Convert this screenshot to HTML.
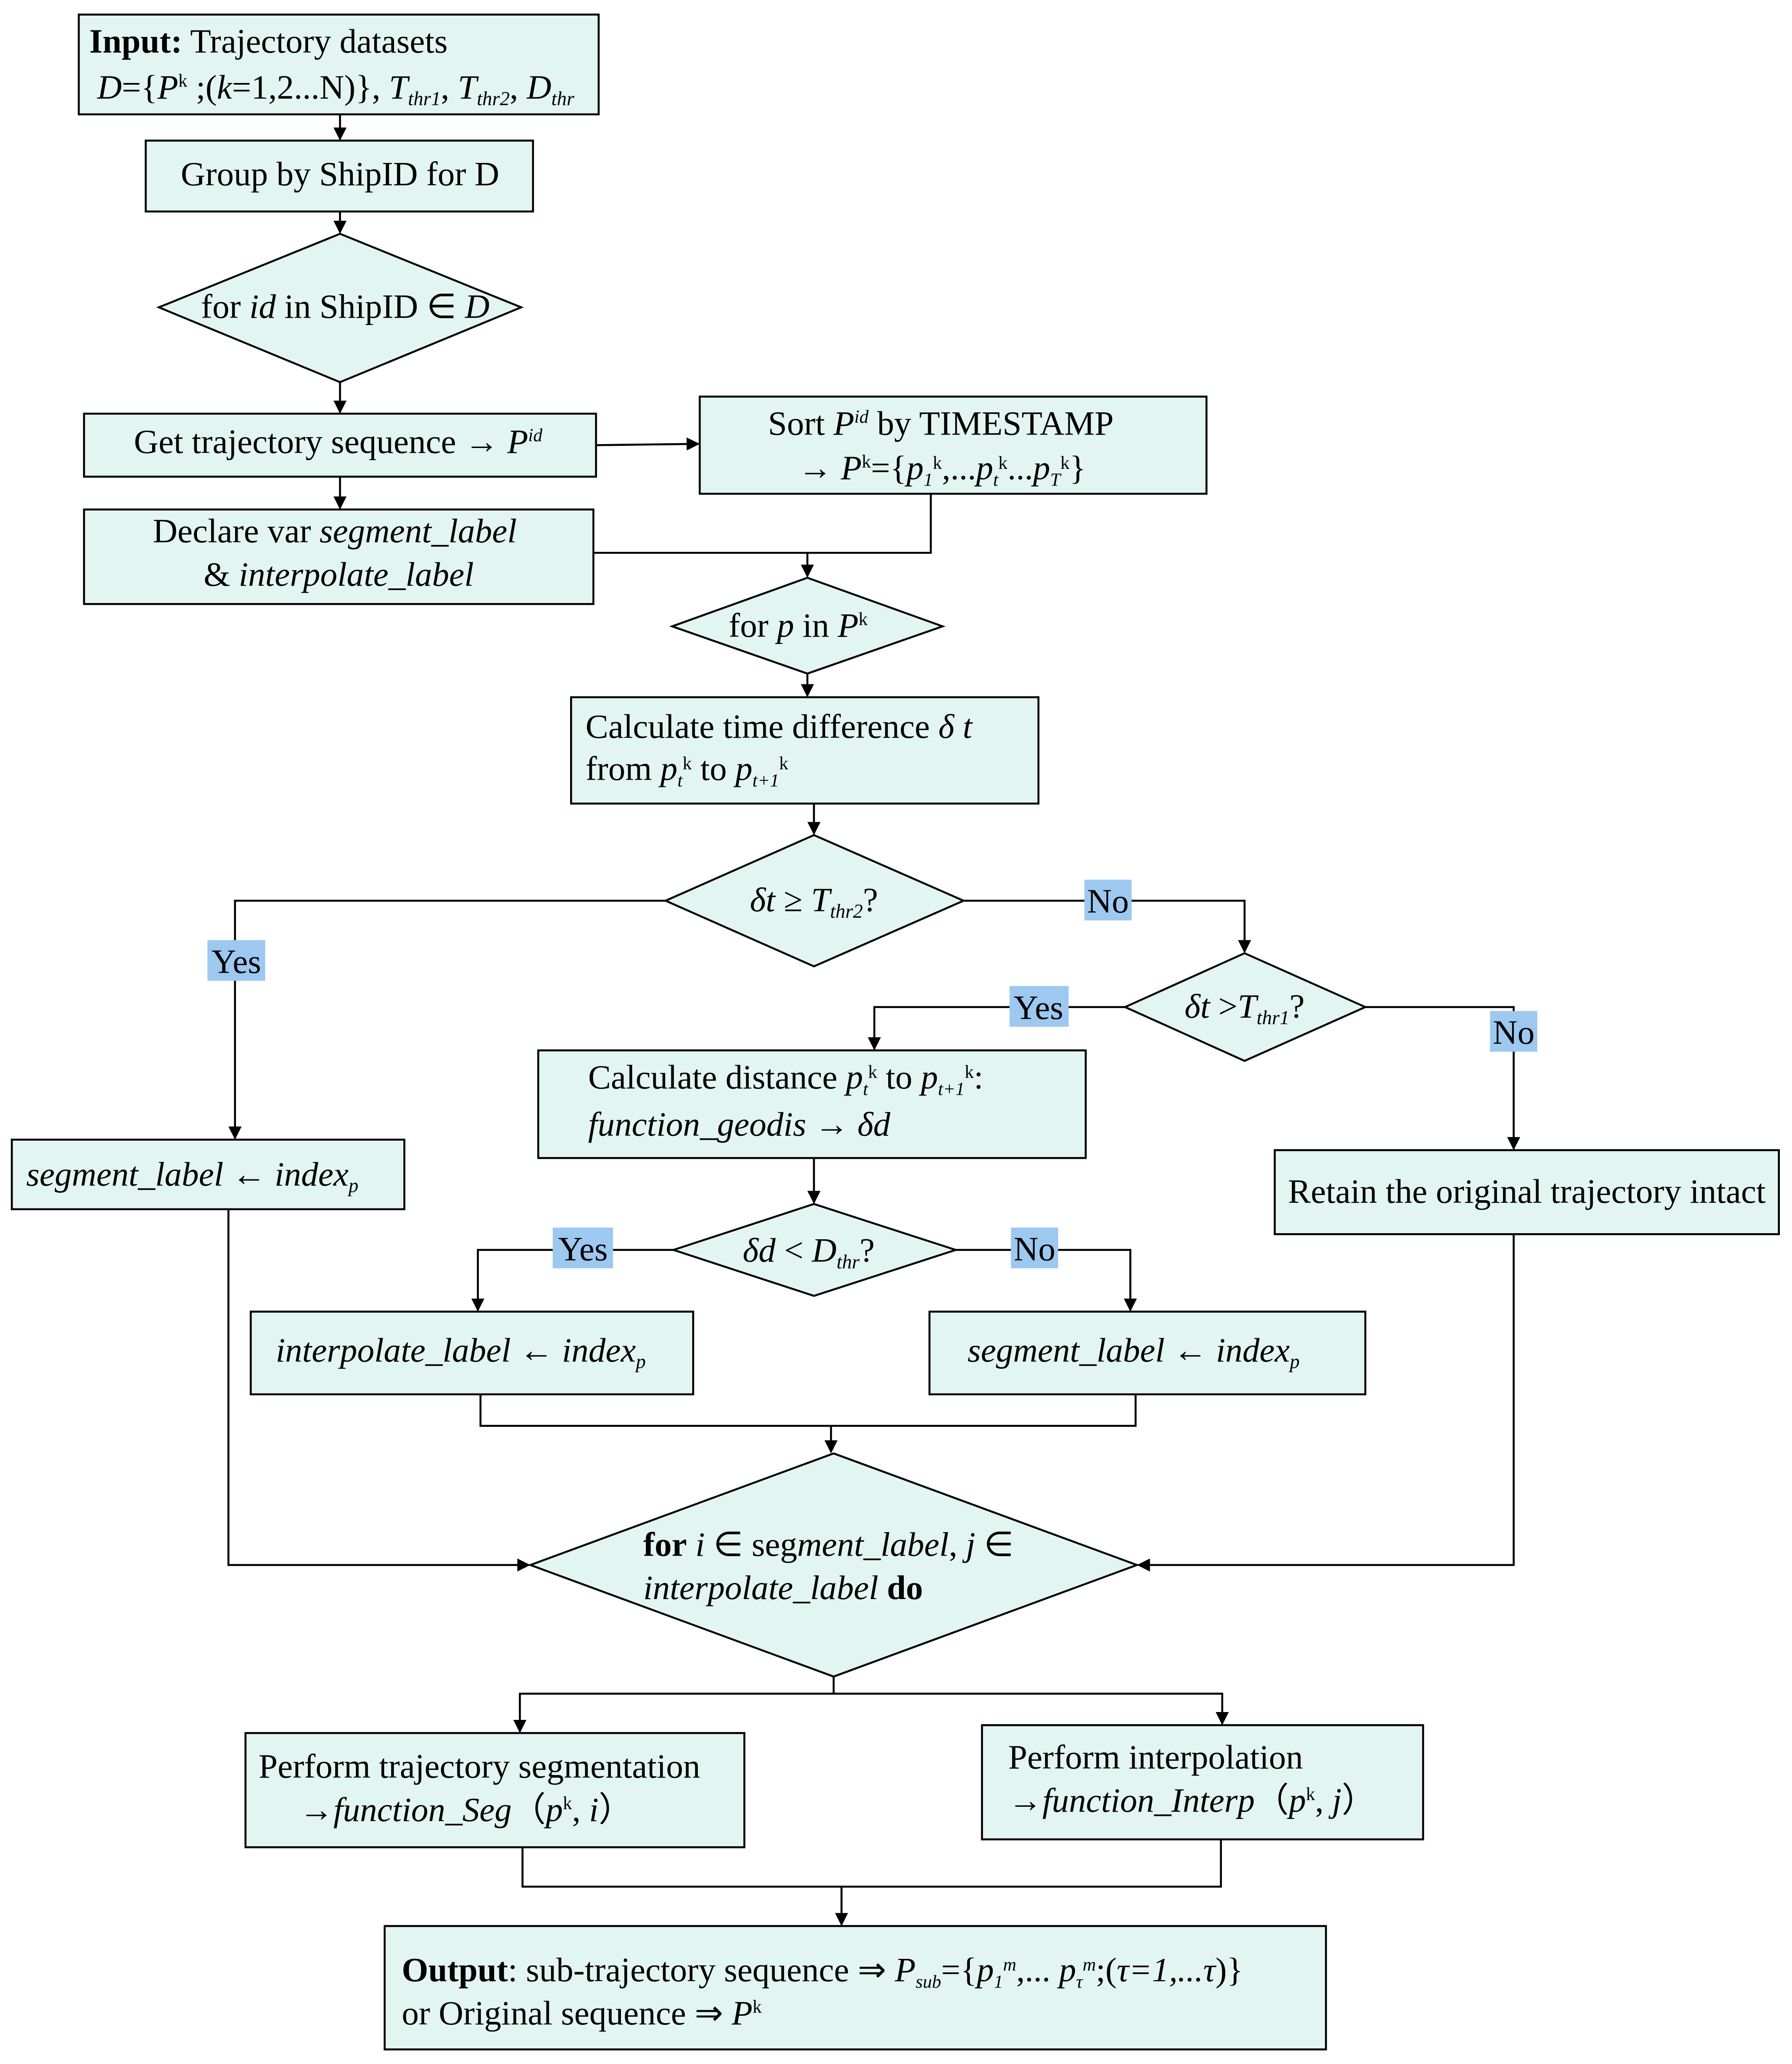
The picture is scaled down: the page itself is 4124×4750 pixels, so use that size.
<!DOCTYPE html>
<html><head><meta charset="utf-8"><style>
html,body{margin:0;padding:0;background:#fff}
svg{display:block}
text{font-family:"Liberation Serif",serif;font-size:26px;fill:#000}
.i{font-style:italic}
.b{font-weight:bold}
</style></head><body>
<svg width="4124" height="4750" viewBox="0 0 1365 1572" xmlns="http://www.w3.org/2000/svg">
<defs><marker id="a" markerWidth="10" markerHeight="10" refX="9" refY="5" orient="auto" markerUnits="userSpaceOnUse"><path d="M0,0 L10,5 L0,10 z" fill="#000"/></marker></defs>
<g fill="#e3f5f1" stroke="#000" stroke-width="1.5">
<rect x="60" y="11" width="396" height="76"/>
<rect x="111" y="107" width="295" height="54"/>
<polygon points="121,234 259,178 397,234 259,291"/>
<rect x="64" y="315" width="390" height="48"/>
<rect x="533" y="302" width="386" height="74"/>
<rect x="64" y="388" width="388" height="72"/>
<polygon points="512,477 615,440 718,477 615,513"/>
<rect x="435" y="531" width="356" height="81"/>
<polygon points="507,686 620,636 734,686 620,736"/>
<polygon points="857,767 948,726 1040,767 948,808"/>
<rect x="410" y="800" width="417" height="82"/>
<rect x="9" y="868" width="299" height="53"/>
<rect x="971" y="876" width="384" height="64"/>
<polygon points="513,952 620,917 728,952 620,987"/>
<rect x="191" y="999" width="337" height="63"/>
<rect x="708" y="999" width="332" height="63"/>
<polygon points="404,1192 635,1107 866,1192 635,1277"/>
<rect x="187" y="1320" width="380" height="87"/>
<rect x="748" y="1314" width="336" height="87"/>
<rect x="293" y="1467" width="717" height="94"/>
</g>
<g fill="none" stroke="#000" stroke-width="1.5">
<path d="M259,87V106" marker-end="url(#a)"/>
<path d="M259,161V177" marker-end="url(#a)"/>
<path d="M259,291V314" marker-end="url(#a)"/>
<path d="M259,363V387" marker-end="url(#a)"/>
<path d="M454,339L532,338" marker-end="url(#a)"/>
<path d="M709,376V421H452"/>
<path d="M615,421V439" marker-end="url(#a)"/>
<path d="M615,513V530" marker-end="url(#a)"/>
<path d="M620,612V635" marker-end="url(#a)"/>
<path d="M507,686H179V867" marker-end="url(#a)"/>
<path d="M734,686H948V725" marker-end="url(#a)"/>
<path d="M857,767H666V799" marker-end="url(#a)"/>
<path d="M1040,767H1153V875" marker-end="url(#a)"/>
<path d="M620,882V916" marker-end="url(#a)"/>
<path d="M513,952H364V998" marker-end="url(#a)"/>
<path d="M728,952H861V998" marker-end="url(#a)"/>
<path d="M366,1062V1086H865V1062"/>
<path d="M633,1086V1106" marker-end="url(#a)"/>
<path d="M174,921V1192H403" marker-end="url(#a)"/>
<path d="M1153,940V1192H867" marker-end="url(#a)"/>
<path d="M635,1277V1290H396V1319" marker-end="url(#a)"/>
<path d="M635,1290H931V1313" marker-end="url(#a)"/>
<path d="M398,1407V1437H930V1401"/>
<path d="M641,1437V1466" marker-end="url(#a)"/>
</g>
<g fill="#9dc8ef">
<rect x="158" y="716" width="44" height="31"/>
<rect x="826" y="670" width="36" height="31"/>
<rect x="769" y="751" width="45" height="31"/>
<rect x="1135" y="770" width="36" height="31"/>
<rect x="421" y="935" width="46" height="31"/>
<rect x="770" y="935" width="36" height="31"/>
</g>
<text x="180" y="741" text-anchor="middle">Yes</text>
<text x="844" y="695" text-anchor="middle">No</text>
<text x="791" y="776" text-anchor="middle">Yes</text>
<text x="1153" y="795" text-anchor="middle">No</text>
<text x="444" y="960" text-anchor="middle">Yes</text>
<text x="788" y="960" text-anchor="middle">No</text>

<text x="68" y="40"><tspan class="b">Input:</tspan> Trajectory datasets</text>
<text x="74" y="75"><tspan class="i">D</tspan>={<tspan class="i">P</tspan><tspan font-size="14" dy="-9">k</tspan><tspan dy="9"> ;(</tspan><tspan class="i">k</tspan>=1,2...N)}, <tspan class="i">T</tspan><tspan class="i" font-size="15" dy="5">thr1</tspan><tspan dy="-5">, </tspan><tspan class="i">T</tspan><tspan class="i" font-size="15" dy="5">thr2</tspan><tspan dy="-5">, </tspan><tspan class="i">D</tspan><tspan class="i" font-size="15" dy="5">thr</tspan></text>
<text x="259" y="141" text-anchor="middle">Group by ShipID for D</text>
<text x="263" y="242" text-anchor="middle">for <tspan class="i">id</tspan> in ShipID ∈ <tspan class="i">D</tspan></text>
<text x="102" y="345">Get trajectory sequence → <tspan class="i">P</tspan><tspan class="i" font-size="14" dy="-9">id</tspan></text>
<text x="585" y="331">Sort  <tspan class="i">P</tspan><tspan class="i" font-size="14" dy="-9">id</tspan><tspan dy="9"> by TIMESTAMP</tspan></text>
<text x="608" y="365">→ <tspan class="i">P</tspan><tspan font-size="14" dy="-9">k</tspan><tspan dy="9">={</tspan><tspan class="i">p</tspan><tspan class="i" font-size="14" dy="5">1</tspan><tspan font-size="14" dy="-13">k</tspan><tspan dy="8">,...</tspan><tspan class="i">p</tspan><tspan class="i" font-size="14" dy="5">t</tspan><tspan font-size="14" dy="-13">k</tspan><tspan dy="8">...</tspan><tspan class="i">p</tspan><tspan class="i" font-size="14" dy="5">T</tspan><tspan font-size="14" dy="-13">k</tspan><tspan dy="8">}</tspan></text>
<text x="255" y="413" text-anchor="middle">Declare var <tspan class="i">segment_label</tspan></text>
<text x="258" y="446" text-anchor="middle">&amp; <tspan class="i">interpolate_label</tspan></text>
<text x="608" y="485" text-anchor="middle">for <tspan class="i">p</tspan> in <tspan class="i">P</tspan><tspan font-size="14" dy="-9">k</tspan></text>
<text x="446" y="562">Calculate time difference <tspan class="i">δ t</tspan></text>
<text x="446" y="594">from <tspan class="i">p</tspan><tspan class="i" font-size="14" dy="5">t</tspan><tspan font-size="14" dy="-13">k</tspan><tspan dy="8"> to </tspan><tspan class="i">p</tspan><tspan class="i" font-size="14" dy="5">t+1</tspan><tspan font-size="14" dy="-13">k</tspan></text>
<text x="620" y="694" text-anchor="middle"><tspan class="i">δt</tspan> ≥ <tspan class="i">T</tspan><tspan class="i" font-size="15" dy="5">thr2</tspan><tspan dy="-5">?</tspan></text>
<text x="948" y="775" text-anchor="middle"><tspan class="i">δt</tspan> &gt;<tspan class="i">T</tspan><tspan class="i" font-size="15" dy="5">thr1</tspan><tspan dy="-5">?</tspan></text>
<text x="448" y="829">Calculate distance <tspan class="i">p</tspan><tspan class="i" font-size="14" dy="5">t</tspan><tspan font-size="14" dy="-13">k</tspan><tspan dy="8"> to </tspan><tspan class="i">p</tspan><tspan class="i" font-size="14" dy="5">t+1</tspan><tspan font-size="14" dy="-13">k</tspan><tspan dy="8">:</tspan></text>
<text x="448" y="865" class="i">function_geodis → δd</text>
<text x="20" y="903"><tspan class="i">segment_label ← index</tspan><tspan class="i" font-size="15" dy="5">p</tspan></text>
<text x="1163" y="916" text-anchor="middle">Retain the original trajectory intact</text>
<text x="616" y="961" text-anchor="middle"><tspan class="i">δd</tspan> &lt; <tspan class="i">D</tspan><tspan class="i" font-size="15" dy="5">thr</tspan><tspan dy="-5">?</tspan></text>
<text x="210" y="1037"><tspan class="i">interpolate_label ← index</tspan><tspan class="i" font-size="15" dy="5">p</tspan></text>
<text x="737" y="1037"><tspan class="i">segment_label ← index</tspan><tspan class="i" font-size="15" dy="5">p</tspan></text>
<text x="490" y="1185"><tspan class="b">for</tspan> <tspan class="i">i</tspan> ∈ seg<tspan class="i">ment_label</tspan>, <tspan class="i">j</tspan> ∈</text>
<text x="490" y="1218"><tspan class="i">interpolate_label</tspan> <tspan class="b">do</tspan></text>
<text x="197" y="1354">Perform trajectory segmentation</text>
<text x="228" y="1387">→<tspan class="i">function_Seg</tspan>（<tspan class="i">p</tspan><tspan font-size="14" dy="-9">k</tspan><tspan dy="9">, </tspan><tspan class="i">i</tspan>）</text>
<text x="768" y="1347">Perform interpolation</text>
<text x="768" y="1380">→<tspan class="i">function_Interp</tspan>（<tspan class="i">p</tspan><tspan font-size="14" dy="-9">k</tspan><tspan dy="9">, </tspan><tspan class="i">j</tspan>）</text>
<text x="306" y="1509"><tspan class="b">Output</tspan>: sub-trajectory sequence  ⇒ <tspan class="i">P</tspan><tspan class="i" font-size="14" dy="5">sub</tspan><tspan dy="-5">={</tspan><tspan class="i">p</tspan><tspan class="i" font-size="14" dy="5">1</tspan><tspan class="i" font-size="14" dy="-13">m</tspan><tspan dy="8">,... </tspan><tspan class="i">p</tspan><tspan class="i" font-size="14" dy="5">τ</tspan><tspan class="i" font-size="14" dy="-13">m</tspan><tspan dy="8">;(</tspan><tspan class="i">τ=1,...τ</tspan>)}</text>
<text x="306" y="1542">or Original sequence  ⇒ <tspan class="i">P</tspan><tspan font-size="14" dy="-9">k</tspan></text>
</svg>
</body></html>
